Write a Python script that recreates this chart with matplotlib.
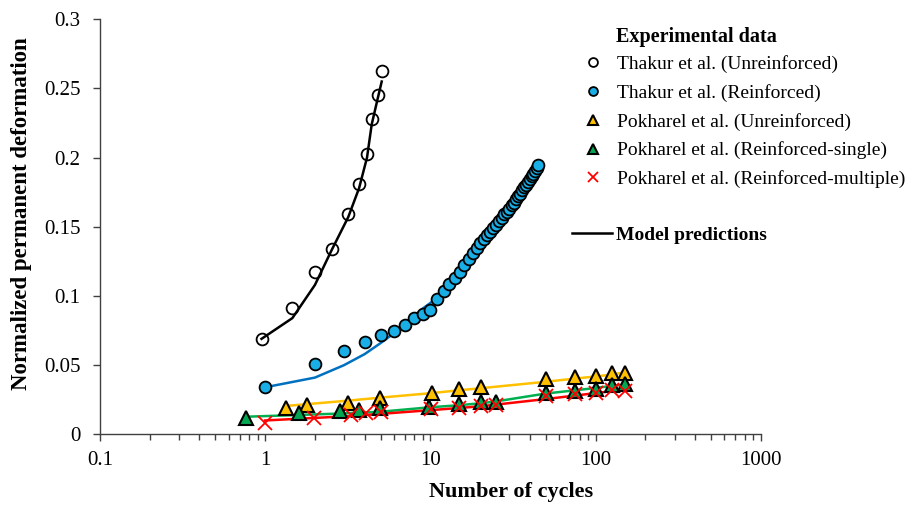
"""Normalized permanent deformation against number of load cycles,
experimental points with the model curves on a log cycle axis."""
import matplotlib

matplotlib.use("Agg")
import matplotlib.pyplot as plt
from matplotlib.lines import Line2D
from matplotlib.ticker import FixedLocator, LogLocator, NullFormatter

# Thakur et al. (Unreinforced)
thakur_unr_n = [0.95, 1.46, 2.0, 2.52, 3.18, 3.70, 4.13, 4.41, 4.80, 5.07]
thakur_unr_d = [0.0691, 0.0915, 0.117, 0.134, 0.159, 0.181, 0.2026, 0.228, 0.245, 0.2627]
thakur_unr_model = [0.069, 0.084, 0.108, 0.133, 0.157, 0.178, 0.200, 0.224, 0.243, 0.255]

# Thakur et al. (Reinforced)
thakur_rf_n = [1, 2, 3, 4, 5, 6, 7, 8, 9, 10, 11, 12, 13, 14, 15, 16, 17, 18, 19, 20,
               21, 22, 23, 24, 25, 26, 27, 28, 29, 30, 31, 32, 33, 34, 35, 36, 37, 38,
               39, 40, 41, 42, 43, 44, 45]
thakur_rf_d = [0.0344, 0.0508, 0.0604, 0.0665, 0.0718, 0.0749, 0.0788, 0.0838, 0.0867,
               0.0899, 0.0980, 0.1036, 0.1084, 0.1128, 0.1176, 0.1224, 0.1267, 0.1309,
               0.1345, 0.1385, 0.1415, 0.1440, 0.1465, 0.1490, 0.1515, 0.1540, 0.1565,
               0.1590, 0.1610, 0.1630, 0.1655, 0.1675, 0.1700, 0.1720, 0.1740, 0.1765,
               0.1785, 0.1805, 0.1825, 0.1845, 0.1865, 0.1885, 0.1905, 0.1925, 0.1950]
thakur_rf_model_n = [1, 2, 3, 4, 5, 6, 7, 8, 9, 10, 12, 15, 20, 25, 30, 35, 40, 45]
thakur_rf_model = [0.034, 0.041, 0.050, 0.058, 0.066, 0.073, 0.080, 0.086, 0.091, 0.095,
                   0.104, 0.117, 0.137, 0.151, 0.163, 0.174, 0.185, 0.195]

# Pokharel et al. (Unreinforced)
pok_unr_n = [1.33, 1.79, 3.15, 4.96, 10.2, 14.8, 20.1, 50, 75, 100, 125, 150]
pok_unr_d = [0.0188, 0.0212, 0.0229, 0.0260, 0.0296, 0.0325, 0.0344, 0.0398, 0.0412,
             0.0425, 0.0443, 0.0445]
pok_unr_model = [0.0205, 0.0218, 0.0243, 0.0265, 0.0298, 0.0318, 0.0333, 0.0380, 0.0403,
                 0.0418, 0.0432, 0.0448]

# Pokharel et al. (Reinforced-single)
pok_single_n = [0.764, 1.61, 2.84, 3.68, 4.96, 9.86, 14.8, 20.3, 25, 50, 75, 100, 125, 150]
pok_single_d = [0.0116, 0.0152, 0.0168, 0.0176, 0.0192, 0.0200, 0.0219, 0.0236, 0.0231,
                0.0298, 0.0315, 0.0328, 0.0356, 0.0366]
pok_single_model = [0.0127, 0.0140, 0.0150, 0.0156, 0.0163, 0.0195, 0.0210, 0.0225,
                    0.0238, 0.0295, 0.0318, 0.0335, 0.0350, 0.0360]

# Pokharel et al. (Reinforced-multiple)
pok_multi_n = [1, 1.96, 3.3, 4.07, 5.02, 10.1, 14.8, 20.3, 25, 50, 75, 100, 125, 150]
pok_multi_d = [0.0084, 0.0116, 0.0139, 0.0152, 0.0164, 0.0180, 0.0188, 0.0205, 0.0212,
               0.0275, 0.0290, 0.0300, 0.0318, 0.0312]
pok_multi_model = [0.0100, 0.0118, 0.0132, 0.0140, 0.0148, 0.0175, 0.0190, 0.0203,
                   0.0215, 0.0255, 0.0280, 0.0298, 0.0312, 0.0322]

x_ticks = [0.1, 1, 10, 100, 1000]
x_tick_labels = ["0.1", "1", "10", "100", "1000"]
y_ticks = [0, 0.05, 0.1, 0.15, 0.2, 0.25, 0.3]
y_tick_labels = ["0", "0.05", "0.1", "0.15", "0.2", "0.25", "0.3"]


def main():
    plt.rcParams["font.family"] = ["Liberation Serif", "DejaVu Serif"]
    plt.rcParams["mathtext.fontset"] = "stix"

    fig = plt.figure(figsize=(9.12, 5.13), dpi=100)
    ax = fig.add_axes([0.1096, 0.1534, 0.7248, 0.809])

    axis_color = "#404040"
    tick_size = 15

    # model predictions underneath the markers
    ax.plot(thakur_unr_n, thakur_unr_model, color="black", lw=1.8, zorder=2)
    ax.plot(thakur_rf_model_n, thakur_rf_model, color="#0070C0", lw=1.8, zorder=2)
    ax.plot(pok_unr_n, pok_unr_model, color="#FFC000", lw=1.8, zorder=2)
    ax.plot(pok_single_n, pok_single_model, color="#00B050", lw=1.8, zorder=2)
    ax.plot(pok_multi_n, pok_multi_model, color="#FF0000", lw=1.8, zorder=2)

    h1, = ax.plot(thakur_unr_n, thakur_unr_d, ls="none", marker="o", ms=8.5,
                  mfc="none", mec="black", mew=1.3, zorder=3,
                  label="Thakur et al. (Unreinforced)")
    h2, = ax.plot(thakur_rf_n, thakur_rf_d, ls="none", marker="o", ms=8.5,
                  mfc="#1AAEE6", mec="black", mew=1.3, zorder=3,
                  label="Thakur et al. (Reinforced)")
    h3, = ax.plot(pok_unr_n, pok_unr_d, ls="none", marker="^", ms=10.5,
                  mfc="#FFC000", mec="black", mew=1.5, zorder=3,
                  label="Pokharel et al. (Unreinforced)")
    h4, = ax.plot(pok_single_n, pok_single_d, ls="none", marker="^", ms=10.5,
                  mfc="#00A651", mec="black", mew=1.5, zorder=4,
                  label="Pokharel et al. (Reinforced-single)")
    h5, = ax.plot(pok_multi_n, pok_multi_d, ls="none", marker="x", ms=10.5,
                  mec="#FF0000", mew=1.3, zorder=5,
                  label="Pokharel et al. (Reinforced-multiple)")

    ax.set_xscale("log")
    ax.set_xlim(0.1, 1000)
    ax.set_ylim(0, 0.3)
    ax.xaxis.set_major_locator(FixedLocator(x_ticks))
    ax.set_xticklabels(x_tick_labels)
    ax.xaxis.set_minor_locator(LogLocator(base=10, subs=range(2, 10), numticks=20))
    ax.xaxis.set_minor_formatter(NullFormatter())
    ax.set_yticks(y_ticks)
    ax.set_yticklabels(y_tick_labels)

    for side in ("top", "right"):
        ax.spines[side].set_visible(False)
    for side in ("left", "bottom"):
        ax.spines[side].set_color(axis_color)
        ax.spines[side].set_linewidth(1.0)

    ax.tick_params(axis="both", which="both", direction="out", colors=axis_color,
                   labelcolor="black", labelsize=tick_size, width=1.0)
    ax.tick_params(axis="x", which="major", length=5, pad=7)
    ax.tick_params(axis="x", which="minor", length=4)
    ax.tick_params(axis="y", which="major", length=5, pad=9)

    fig.text(511 / 912, 1 - 492 / 513, "Number of cycles", fontsize=16,
             fontweight="bold", ha="center", va="center")
    fig.text(22 / 912, 1 - 214 / 513, "Normalized permanent deformation",
             fontsize=16.5, fontweight="bold", ha="center", va="center",
             rotation=90)

    # legend block on the right
    fig.text(616 / 912, 1 - 37 / 513, "Experimental data", fontsize=14.5,
             fontweight="bold", ha="left", va="center")
    leg1 = ax.legend(handles=[h1, h2, h3, h4, h5], loc="upper left",
                     bbox_to_anchor=(583 / 912, 1 - 55 / 513),
                     bbox_transform=fig.transFigure, frameon=False, fontsize=14,
                     markerscale=0.75, handlelength=1.0, handletextpad=0.75,
                     labelspacing=0.56, borderpad=0, borderaxespad=0)
    ax.add_artist(leg1)
    model_handle = Line2D([], [], color="black", lw=1.8)
    leg2 = ax.legend(handles=[model_handle], labels=["Model predictions"],
                     loc="upper left", bbox_to_anchor=(572 / 912, 1 - 226 / 513),
                     bbox_transform=fig.transFigure, frameon=False,
                     prop={"size": 14, "weight": "bold"}, handlelength=2.05,
                     handletextpad=0.2, borderpad=0, borderaxespad=0)

    fig.savefig("out.png", dpi=100)


if __name__ == "__main__":
    main()
